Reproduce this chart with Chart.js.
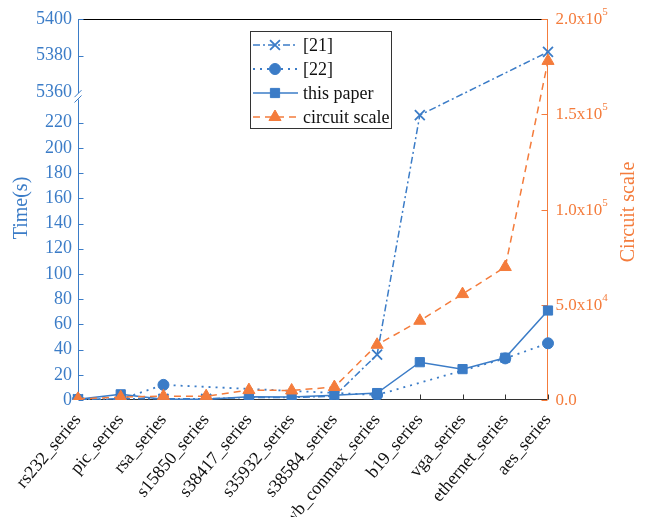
<!DOCTYPE html>
<html>
<head>
<meta charset="utf-8">
<script src="https://cdn.jsdelivr.net/npm/chart.js@4.4.1/dist/chart.umd.min.js"></script>
<style>
  html, body { margin: 0; padding: 0; background: #fff; }
  #wrap { width: 651px; height: 517px; position: relative; }
</style>
</head>
<body>
<div id="wrap"><canvas id="timeChart"></canvas></div>
<script>
// Data
const categories = ['rs232_series', 'pic_series', 'rsa_series', 's15850_series', 's38417_series',
    's35932_series', 's38584_series', 'wb_conmax_series', 'b19_series', 'vga_series',
    'ethernet_series', 'aes_series'];
const ref21 = [0.5, 1, 1, 1, 2, 2, 3, 36, 226, null, null, 5382];
const ref22 = [0.5, 0.5, 12, null, null, null, null, 4, null, null, 33, 45];
const thisPaper = [0.5, 4.5, 0.5, 0.5, 2.5, 2.3, 3.8, 5.5, 30, 24.5, 33.5, 71];
const circuitScale = [600, 1500, 2000, 2000, 5200, 5000, 6800, 29000, 41600, 55600, 69800, 178000];
const timeTicks = [0, 20, 40, 60, 80, 100, 120, 140, 160, 180, 200, 220, 5360, 5380, 5400];
const scaleTicks = [0, 50000, 100000, 150000, 200000];

const BLUE = '#3b7cc7';
const ORANGE = '#f47c3c';
const FONT = "'Liberation Serif', 'Times New Roman', serif";

// broken axis: lower part 0..240, upper part 5360..5400
const LOW_MAX = 240, HIGH_MIN = 5360, HIGH_MAX = 5400;
const LOW_FRAC = 0.794, HIGH_FRAC = 0.808;

function toDecimal(v) {
    if (v <= LOW_MAX) return v / LOW_MAX * LOW_FRAC;
    if (v >= HIGH_MIN) return HIGH_FRAC + (v - HIGH_MIN) / (HIGH_MAX - HIGH_MIN) * (1 - HIGH_FRAC);
    return LOW_FRAC + (v - LOW_MAX) / (HIGH_MIN - LOW_MAX) * (HIGH_FRAC - LOW_FRAC);
}
function fromDecimal(d) {
    if (d <= LOW_FRAC) return d / LOW_FRAC * LOW_MAX;
    if (d >= HIGH_FRAC) return HIGH_MIN + (d - HIGH_FRAC) / (1 - HIGH_FRAC) * (HIGH_MAX - HIGH_MIN);
    return LOW_MAX + (d - LOW_FRAC) / (HIGH_FRAC - LOW_FRAC) * (HIGH_MIN - LOW_MAX);
}

class BrokenScale extends Chart.LinearScale {
    getPixelForValue(value) {
        if (value === null || value === undefined || isNaN(value)) return NaN;
        return this.getPixelForDecimal(toDecimal(value));
    }
    getValueForPixel(pixel) {
        return fromDecimal(this.getDecimalForPixel(pixel));
    }
}
BrokenScale.id = 'broken';
BrokenScale.defaults = Chart.LinearScale.defaults;
Chart.register(BrokenScale);

Chart.defaults.font.family = FONT;

function line(ctx, x1, y1, x2, y2) {
    ctx.beginPath();
    ctx.moveTo(x1, y1);
    ctx.lineTo(x2, y2);
    ctx.stroke();
}

// Axes, break marks, inward ticks, right labels with exponents
const axisDecor = {
    id: 'axisDecor',
    beforeDatasetsDraw(chart) {
        const { ctx, chartArea: a, scales } = chart;
        const left = Math.round(a.left) + 0.5;
        const right = Math.round(a.right) - 0.5;
        const top = Math.round(a.top) + 0.5;
        const bottom = Math.round(a.bottom) - 0.5;
        ctx.save();
        ctx.lineWidth = 1;

        // top frame + x axis
        ctx.strokeStyle = '#000';
        line(ctx, left, top, right, top);
        ctx.strokeStyle = '#333';
        line(ctx, left, bottom, right, bottom);
        scales.x.ticks.forEach((t, i) => {
            const px = Math.round(scales.x.getPixelForTick(i)) + 0.5;
            line(ctx, px, bottom, px, bottom - 5);
        });

        // left axis with a break
        const yb1 = scales.y.getPixelForValue(HIGH_MIN);
        const yb2 = scales.y.getPixelForValue(LOW_MAX);
        ctx.strokeStyle = BLUE;
        line(ctx, left, top, left, yb1 + 1);
        line(ctx, left, yb2 + 2, left, bottom);
        line(ctx, left - 4, yb1 + 5, left + 3, yb1 - 2);
        line(ctx, left - 4, yb2 + 5, left + 3, yb2 - 2);
        timeTicks.forEach(v => {
            if (v === HIGH_MIN) return;
            const py = Math.round(scales.y.getPixelForValue(v)) + 0.5;
            line(ctx, left, py, left + 5, py);
        });

        // right axis
        ctx.strokeStyle = ORANGE;
        line(ctx, right, top, right, bottom);
        ctx.fillStyle = ORANGE;
        ctx.textBaseline = 'middle';
        ctx.textAlign = 'left';
        scaleTicks.forEach(v => {
            const py = Math.round(scales.y1.getPixelForValue(v)) + 0.5;
            line(ctx, right, py, right - 6, py);
            let txt = '0.0', sup = '';
            if (v > 0) {
                const exp = Math.floor(Math.log10(v));
                txt = (v / Math.pow(10, exp)).toFixed(1) + 'x10';
                sup = String(exp);
            }
            ctx.font = '17px ' + FONT;
            ctx.fillText(txt, right + 8, py);
            if (sup) {
                const w = ctx.measureText(txt).width;
                ctx.font = '11px ' + FONT;
                ctx.fillText(sup, right + 8 + w, py - 7);
            }
        });

        // axis titles
        ctx.font = '20px ' + FONT;
        ctx.textAlign = 'center';
        ctx.fillStyle = BLUE;
        ctx.save();
        ctx.translate(22, 208);
        ctx.rotate(-Math.PI / 2);
        ctx.fillText('Time(s)', 0, 0);
        ctx.restore();
        ctx.fillStyle = ORANGE;
        ctx.save();
        ctx.translate(629, 212);
        ctx.rotate(-Math.PI / 2);
        ctx.fillText('Circuit scale', 0, 0);
        ctx.restore();

        ctx.restore();
    }
};

// Legend box inside the plot
const boxLegend = {
    id: 'boxLegend',
    afterDraw(chart) {
        const { ctx } = chart;
        const x0 = 250.5, y0 = 31.5, w = 141, h = 97;
        ctx.save();
        ctx.fillStyle = '#fff';
        ctx.fillRect(x0, y0, w, h);
        ctx.strokeStyle = '#333';
        ctx.lineWidth = 1;
        ctx.strokeRect(x0, y0, w, h);
        chart.data.datasets.forEach((ds, k) => {
            const cy = 45 + k * 24;
            ctx.strokeStyle = ds.borderColor;
            ctx.lineWidth = ds.borderWidth;
            ctx.setLineDash(ds.borderDash || []);
            line(ctx, 253, cy, 298, cy);
            ctx.setLineDash([]);
            ctx.fillStyle = ds.pointBackgroundColor;
            ctx.strokeStyle = ds.pointBorderColor;
            ctx.lineWidth = ds.pointBorderWidth;
            Chart.helpers.drawPoint(ctx, {
                pointStyle: ds.pointStyle, radius: ds.pointRadius,
                borderWidth: ds.pointBorderWidth, rotation: 0
            }, 275, cy);
            ctx.fillStyle = '#111';
            ctx.font = '18px ' + FONT;
            ctx.textAlign = 'left';
            ctx.textBaseline = 'middle';
            ctx.fillText(ds.label, 303, cy + 1);
        });
        ctx.restore();
    }
};

const ctx = document.getElementById('timeChart');
new Chart(ctx, {
    type: 'line',
    data: {
        labels: categories,
        datasets: [
            {
                label: '[21]',
                data: ref21,
                yAxisID: 'y',
                borderColor: BLUE,
                borderWidth: 1.5,
                borderDash: [7, 3, 2, 3],
                pointStyle: 'crossRot',
                pointRadius: 7,
                pointBorderWidth: 1.8,
                pointBackgroundColor: BLUE,
                pointBorderColor: BLUE,
                spanGaps: true,
                order: 3
            },
            {
                label: '[22]',
                data: ref22,
                yAxisID: 'y',
                borderColor: BLUE,
                borderWidth: 1.8,
                borderDash: [2, 5],
                pointStyle: 'circle',
                pointRadius: 5.5,
                pointBorderWidth: 1,
                pointBackgroundColor: BLUE,
                pointBorderColor: BLUE,
                spanGaps: true,
                order: 2
            },
            {
                label: 'this paper',
                data: thisPaper,
                yAxisID: 'y',
                borderColor: BLUE,
                borderWidth: 1.5,
                pointStyle: 'rect',
                pointRadius: 6.5,
                pointBorderWidth: 1,
                pointBackgroundColor: BLUE,
                pointBorderColor: BLUE,
                order: 1
            },
            {
                label: 'circuit scale',
                data: circuitScale,
                yAxisID: 'y1',
                borderColor: ORANGE,
                borderWidth: 1.5,
                borderDash: [7, 5],
                pointStyle: 'triangle',
                pointRadius: 7,
                pointBorderWidth: 1,
                pointBackgroundColor: ORANGE,
                pointBorderColor: ORANGE,
                order: 0
            }
        ]
    },
    options: {
        responsive: true,
        maintainAspectRatio: false,
        animation: false,
        layout: { padding: { top: 19, left: 0, right: 0, bottom: 0 } },
        plugins: {
            legend: { display: false },
            tooltip: { enabled: false }
        },
        scales: {
            x: {
                type: 'category',
                offset: false,
                grid: { display: false, drawTicks: false },
                border: { display: false },
                ticks: {
                    color: '#111',
                    font: { size: 18 },
                    maxRotation: 50,
                    minRotation: 50,
                    autoSkip: false,
                    padding: 10
                },
                afterFit: s => { s.height = 117; s.paddingLeft = 0; s.paddingRight = 0; }
            },
            y: {
                type: 'broken',
                position: 'left',
                min: 0,
                max: HIGH_MAX,
                grid: { display: false, drawTicks: false },
                border: { display: false },
                afterBuildTicks: axis => { axis.ticks = timeTicks.map(v => ({ value: v })); },
                ticks: {
                    color: BLUE,
                    font: { size: 18 },
                    padding: 6,
                    callback: v => String(v)
                },
                afterFit: s => { s.width = 78; s.paddingTop = 0; s.paddingBottom = 0; }
            },
            y1: {
                type: 'linear',
                position: 'right',
                min: 0,
                max: 200000,
                grid: { display: false, drawTicks: false },
                border: { display: false },
                afterBuildTicks: axis => { axis.ticks = scaleTicks.map(v => ({ value: v })); },
                ticks: { display: false },
                afterFit: s => { s.width = 103; s.paddingTop = 0; s.paddingBottom = 0; }
            }
        }
    },
    plugins: [axisDecor, boxLegend]
});
</script>
</body>
</html>
